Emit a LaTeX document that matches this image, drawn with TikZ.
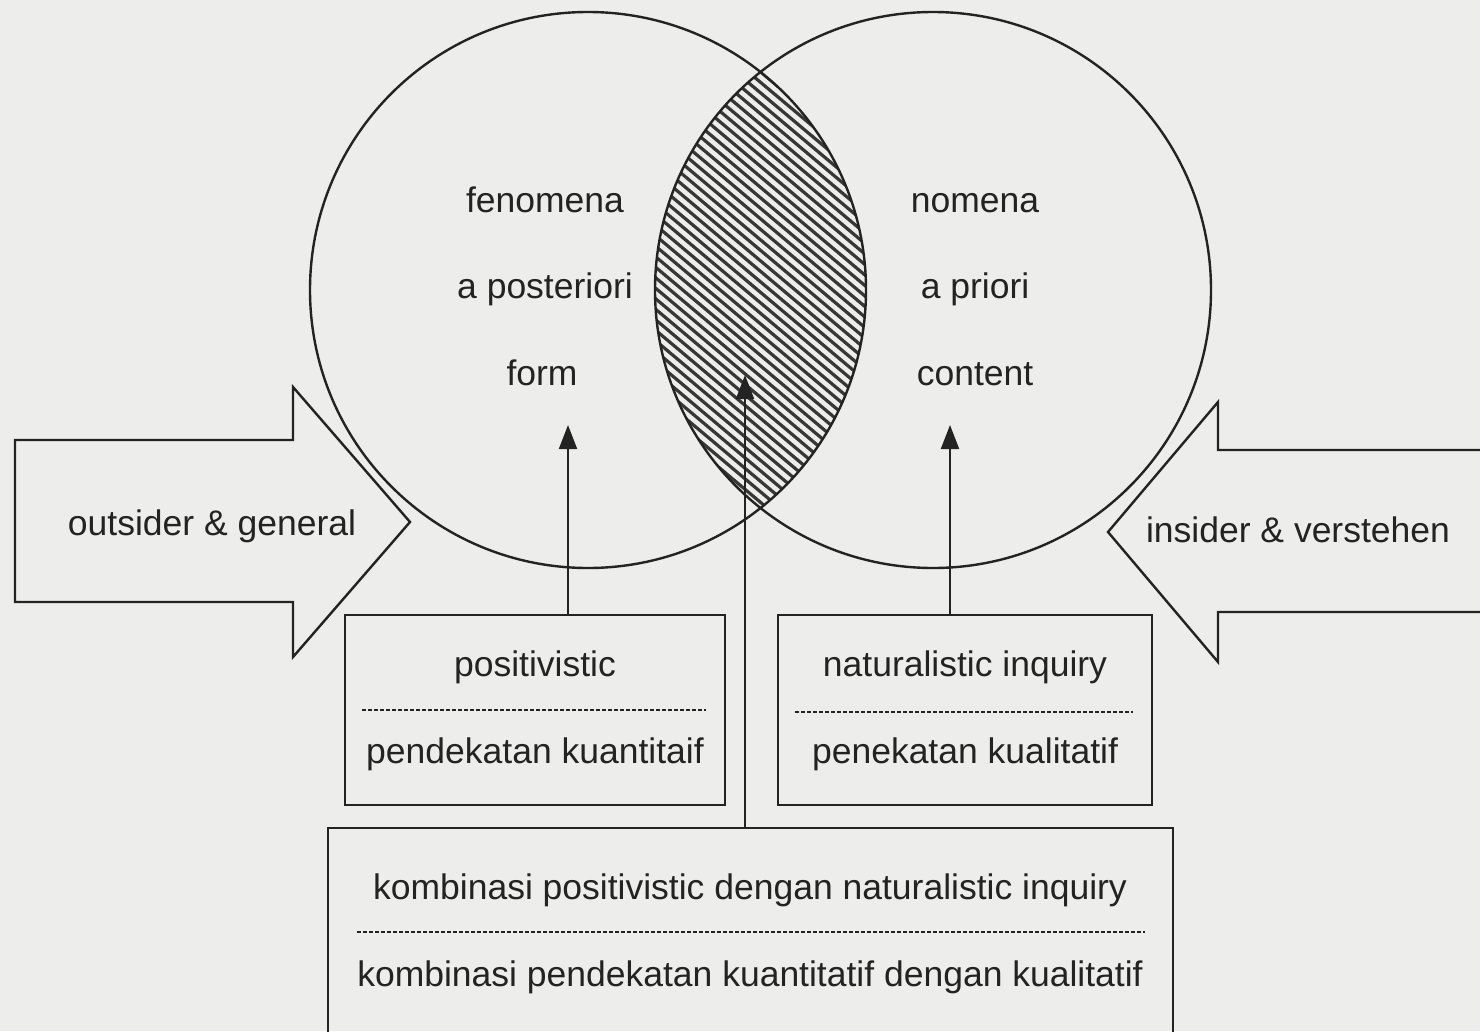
\documentclass[tikz,border=0pt]{standalone}
\usepackage{fontspec}
\setmainfont{Liberation Sans}
\usetikzlibrary{arrows.meta}
\definecolor{paper}{RGB}{237,237,235}
\definecolor{ink}{RGB}{35,35,35}
\definecolor{hink}{RGB}{55,55,55}
\begin{document}
\begin{tikzpicture}[x=1pt,y=-1pt,line width=2.4pt,line join=miter,draw=ink,
  lbl/.style={font=\fontsize{35.5}{38}\selectfont,text=ink,inner sep=0pt,anchor=base},
  boxnode/.style={draw=ink,line width=2.4pt,inner sep=0pt},
  sep/.style={draw=ink,line width=1.8pt,dash pattern=on 4pt off 2pt},
  uparrow/.style={draw=ink,line width=2pt,-{Triangle[length=24pt,width=18pt]}},
  hatch/.style={draw=hink,line width=3.2pt}]
\fill[paper] (0,0) rectangle (1480,1031);
\useasboundingbox (0,0) rectangle (1480,1031);

% hatched intersection
\begin{scope}
  \clip (588,290) circle (278pt);
  \clip (933,290) circle (278pt);
  \foreach \x in {0,12.5,...,900} \draw[hatch] (\x,0) -- ++(700,588);
\end{scope}

% circles
\node[draw=ink,line width=2.4pt,circle,minimum size=556pt,inner sep=0pt] (cl) at (588,290) {};
\node[draw=ink,line width=2.4pt,circle,minimum size=556pt,inner sep=0pt] (cr) at (933,290) {};

% circle texts
\node[lbl] (fen) at (545,212) {fenomena};
\node[lbl] (apost) at (545,298) {a posteriori};
\node[lbl] (form) at (542,385) {form};
\node[lbl] (nom) at (975,212) {nomena};
\node[lbl] (aprio) at (975,298) {a priori};
\node[lbl] (cont) at (975,385) {content};

% big arrows
\draw (15,440) -- (293,440) -- (293,387) -- (410,522) -- (293,657) -- (293,602) -- (15,602) -- cycle;
\node[lbl] (outs) at (212,535) {outsider \& general};
\draw (1495,450) -- (1218,450) -- (1218,402) -- (1108,532) -- (1218,662) -- (1218,612) -- (1495,612);
\node[lbl] (ins) at (1298,542) {insider \& verstehen};

% boxes
\node[boxnode,minimum width=380pt,minimum height=190pt] (posbox) at (535,710) {};
\node[boxnode,minimum width=374pt,minimum height=190pt] (natbox) at (965,710) {};
\node[boxnode,minimum width=845pt,minimum height=240pt] (combox) at (750.5,948) {};

\node[lbl] (pos) at (535,676) {positivistic};
\draw[sep] (362,710) -- (706,710);
\node[lbl] (pkuan) at (535,763) {pendekatan kuantitaif};

\node[lbl] (nat) at (965,676) {naturalistic inquiry};
\draw[sep] (795,712) -- (1133,712);
\node[lbl] (pkual) at (965,763) {penekatan kualitatif};

\node[lbl] (kom1) at (750,899) {kombinasi positivistic dengan naturalistic inquiry};
\draw[sep] (357,932) -- (1145,932);
\node[lbl] (kom2) at (750,986) {kombinasi pendekatan kuantitatif dengan kualitatif};

% vertical arrows
\coordinate (formtip) at (568,425);
\coordinate (conttip) at (950,425);
\coordinate (midtip) at (745,375);
\draw[uparrow] (posbox.north -| formtip) -- (formtip);
\draw[uparrow] (natbox.north -| conttip) -- (conttip);
\draw[uparrow] (combox.north -| midtip) -- (midtip);
\end{tikzpicture}
\end{document}
